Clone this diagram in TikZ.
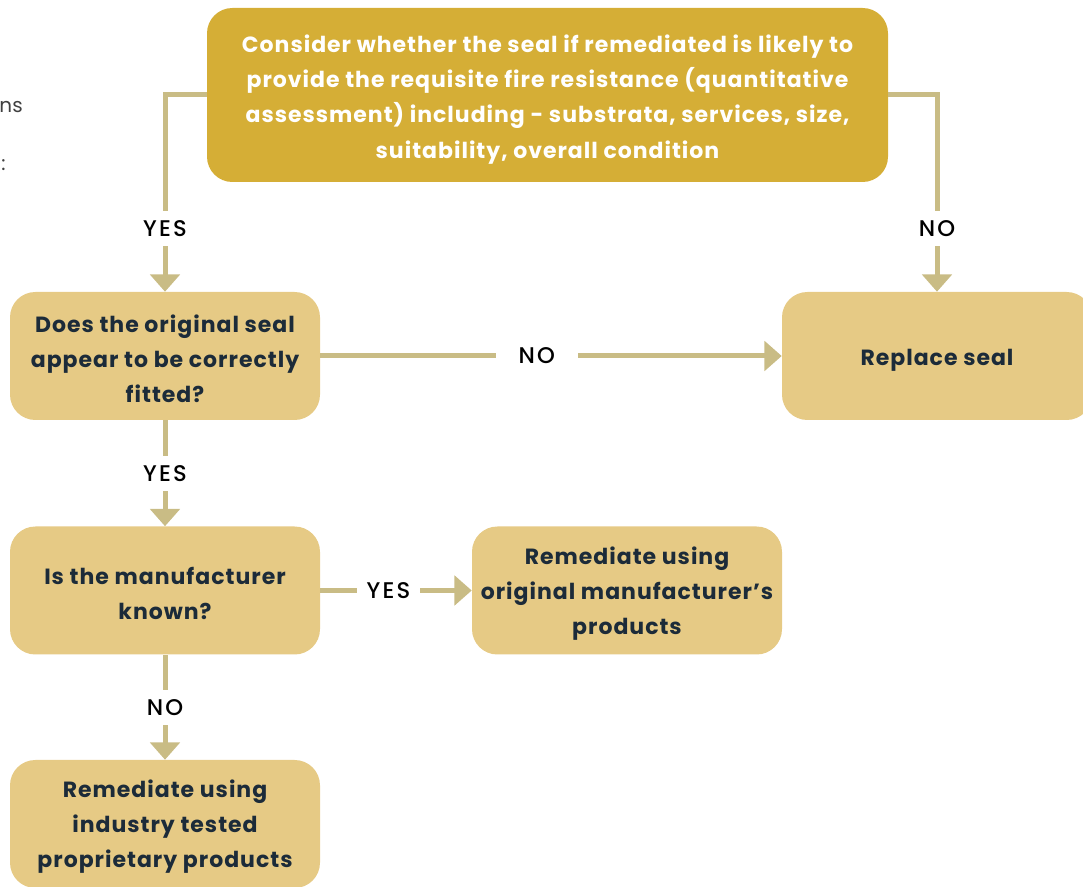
\documentclass[tikz,border=0pt]{standalone}
\usepackage{fontspec}
\setmainfont{Poppins}
\newfontfamily\boxfont[LetterSpace=4.5]{Poppins}
\newfontfamily\lblfont[LetterSpace=10]{Poppins Medium}
\usetikzlibrary{arrows.meta}
\definecolor{darkgold}{HTML}{D5AE36}
\definecolor{lightgold}{HTML}{E6CA85}
\definecolor{linkgold}{HTML}{C9BC85}
\definecolor{navy}{HTML}{1C2B39}
% strut on the first line, pushes the text a little down
\newcommand{\lift}[1][17.5pt]{\rule{0pt}{#1}}
\tikzset{
  box/.style={fill=lightgold, rounded corners=19pt, inner sep=0pt,
    minimum width=232.5pt, minimum height=96pt, align=center,
    text=navy, font=\boxfont\fontsize{16.5}{26.3}\selectfont\bfseries},
  topbox/.style={box, fill=darkgold, text=white,
    minimum width=510.75pt, minimum height=130.5pt},
  link/.style={draw=linkgold, line width=3.75pt,
    -{Triangle[width=22pt, length=13pt]}},
  lbl/.style={fill=white, text=black, inner sep=7pt,
    font=\lblfont\fontsize{17}{19}\selectfont}
}
\begin{document}
\begin{tikzpicture}[x=0.75pt, y=-0.75pt]
	\useasboundingbox (0,0) rectangle (1083,887);

	% cut-off text on the left
	\node[anchor=east, text=black!75, font=\fontsize{15}{18}\selectfont, inner sep=0pt] (cutA) at (23,107) {ns};
	\node[anchor=east, text=black!75, font=\fontsize{15}{18}\selectfont, inner sep=0pt] (cutB) at (6,165) {:};

	% boxes
	\node[topbox] (consider) at (547.5,95) {\lift[20pt]Consider whether the seal if remediated is likely to\\provide the requisite fire resistance (quantitative\\assessment) including - substrata, services, size,\\suitability, overall condition};
	\node[box] (fitted) at (165,356) {\lift Does the original seal\\appear to be correctly\\fitted?};
	\node[box] (replace) at (937,356) {\lift[18pt]Replace seal};
	\node[box] (maker) at (165,590.5) {\lift Is the manufacturer\\known?};
	\node[box] (original) at (627,590.5) {\lift Remediate using\\original manufacturer’s\\products};
	\node[box] (industry) at (165,824) {\lift Remediate using\\industry tested\\proprietary products};

	% connectors
	\draw[link] (consider.west) -| node[lbl, pos=0.84] {YES} (fitted.north);
	\draw[link] (consider.east) -| node[lbl, pos=0.84] {NO} (replace.north);
	\draw[link] (fitted.east) -- node[lbl, pos=0.469, inner xsep=17pt] {NO} (replace.west);
	\draw[link] (fitted.south) -- node[lbl] {YES} (maker.north);
	\draw[link] (maker.east) -- node[lbl, pos=0.45] {YES} (original.west);
	\draw[link] (maker.south) -- node[lbl] {NO} (industry.north);
\end{tikzpicture}
\end{document}
